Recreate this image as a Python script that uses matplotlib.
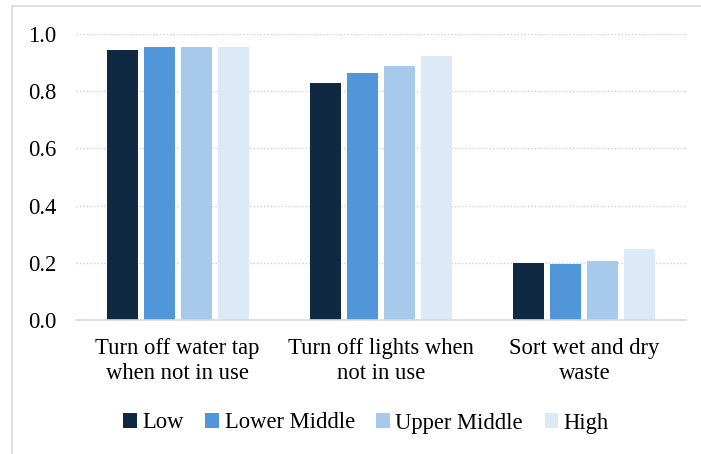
import matplotlib
matplotlib.use("Agg")
import matplotlib.pyplot as plt
import numpy as np
from matplotlib.patches import Rectangle

categories = ["Turn off water tap\nwhen not in use", "Turn off lights when\nnot in use", "Sort wet and dry\nwaste"]
series_names = ["Low", "Lower Middle", "Upper Middle", "High"]
low = [0.943, 0.828, 0.200]
lower_middle = [0.955, 0.862, 0.196]
upper_middle = [0.953, 0.886, 0.207]
high = [0.953, 0.922, 0.249]
yticks = [0.0, 0.2, 0.4, 0.6, 0.8, 1.0]
colors = ["#0F2942", "#5096D8", "#A7CAEC", "#DCE9F7"]

plt.rcParams['font.family'] = 'serif'
plt.rcParams['font.serif'] = ['Liberation Serif', 'Times New Roman', 'DejaVu Serif']
FS = 16.3

W, H = 701, 454
fig = plt.figure(figsize=(W / 100, H / 100), dpi=100)
fig.patches.append(Rectangle((12 / W, -0.1), 1.2, (H - 6.5) / H + 0.1, transform=fig.transFigure,
                             fill=False, edgecolor="#D9D9D9", linewidth=1.2))
ax = fig.add_axes([76 / W, (H - 320.2) / H, 610 / W, 286.5 / H])

x = np.arange(len(categories))
pitch = 0.182
width = 0.153
data = [low, lower_middle, upper_middle, high]
for i, (name, vals, c) in enumerate(zip(series_names, data, colors)):
    ax.bar(x + (i - 1.5) * pitch, vals, width, color=c, label=name, zorder=3)

ax.set_xlim(-0.5, 2.5)
ax.set_ylim(0, 1.0)
ax.set_yticks(yticks)
ax.set_yticklabels([f"{v:.1f}" for v in yticks])
ax.set_xticks(x)
ax.set_xticklabels(categories, linespacing=1.25)
ax.tick_params(axis='y', length=0, pad=14, labelsize=FS, colors="#000000")
ax.tick_params(axis='x', length=0, pad=13, labelsize=FS)
ax.yaxis.grid(True, linestyle=(0, (1, 1.5)), color="#D0D0D0", linewidth=1, zorder=0)
ax.set_axisbelow(True)
for s in ["top", "right", "left"]:
    ax.spines[s].set_visible(False)
ax.spines["bottom"].set_color("#D9D9D9")
ax.spines["bottom"].set_linewidth(1.2)
ax.spines["bottom"].set_zorder(4)

fig.legend(loc="center", bbox_to_anchor=(366 / W, 1 - 423 / H), ncol=4, frameon=False,
           fontsize=FS, handlelength=0.6, handleheight=0.6, handletextpad=0.25,
           columnspacing=0.95, borderaxespad=0)

fig.savefig("out.png", dpi=100)
